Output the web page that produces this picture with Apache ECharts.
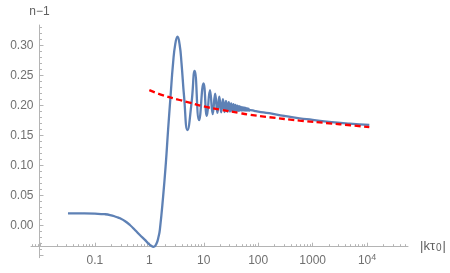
<!DOCTYPE html>
<html><head><meta charset="utf-8">
<script src="https://cdn.jsdelivr.net/npm/echarts@6/dist/echarts.min.js"></script>
<style>html,body{margin:0;padding:0;background:#fff}#c{width:450px;height:273px}</style>
</head><body><div id="c"></div>
<script>
// blue curve: n-1 versus |k tau0|
const blueK = [0.032,0.06,0.1,0.15,0.19,0.25,0.29,0.36,0.44,0.55,0.67,0.83,0.95,1.08,1.2,1.35,1.48,1.56,1.79,2.01,2.21,2.45,2.73,3.0,3.29,3.6,3.9,4.35,5.02,5.95,6.8,8.2,9.9,11.4,13.0,14.6,16.2,17.8,19.3,20.9,22.5,24.1,25.6,27.2,28.8,30.4,31.9,33.5,35.1,36.7,38.2,39.8,41.4,43.0,44.5,46.1,47.7,49.3,50.8,52.4,54.0,55.5,57.1,58.6,60.2,61.8,63.3,64.9,66.5,68,72,85,100,160,300,575,1000,2000,4800,11000];
const blueN = [0.0207,0.0205,0.0200,0.0192,0.0178,0.0145,0.0123,0.0075,0.0012,-0.0075,-0.0155,-0.0235,-0.0293,-0.0335,-0.0352,-0.030,-0.018,-0.007,0.048,0.104,0.1595,0.215,0.271,0.303,0.315,0.302,0.271,0.215,0.1595,0.204,0.258,0.176,0.237,0.183,0.226,0.186,0.220,0.188,0.215,0.189,0.211,0.1895,0.208,0.190,0.206,0.1903,0.204,0.1905,0.2025,0.191,0.2012,0.1912,0.2002,0.1915,0.1993,0.1917,0.1985,0.1918,0.1978,0.1919,0.1972,0.192,0.1966,0.192,0.1961,0.1919,0.1956,0.1918,0.1951,0.1917,0.1928,0.1915,0.1903,0.1875,0.183,0.179,0.1765,0.173,0.170,0.168];
// red dashed curve
const redK = [1,1.8,3.6,5.5,10,20,45,70,160,575,2000,5000,11000];
const redN = [0.226,0.2172,0.2095,0.2052,0.1988,0.1935,0.1878,0.185,0.1808,0.1752,0.1707,0.1674,0.1643];
// ticks
const xMajorTicks = [0.01,0.1,1,10,100,1000,10000];
const xLabelValues = [0.1,1,10,100,1000,10000];
const xTickLabels = ['0.1','1','10','100','1000','10^4'];
const xMinorTicks = [0.007,0.008,0.009,0.02,0.03,0.04,0.05,0.06,0.07,0.08,0.09,0.2,0.3,0.4,0.5,0.6,0.7,0.8,0.9,2,3,4,5,6,7,8,9,20,30,40,50,60,70,80,90,200,300,400,500,600,700,800,900,2000,3000,4000,5000,6000,7000,8000,9000,20000,30000,40000,50000];
const yMajorTicks = [-0.05,0,0.05,0.1,0.15,0.2,0.25,0.3];
const yLabelValues = [0,0.05,0.1,0.15,0.2,0.25,0.3];
const yMinorTicks = [-0.04,-0.03,-0.02,-0.01,0.01,0.02,0.03,0.04,0.06,0.07,0.08,0.09,0.11,0.12,0.13,0.14,0.16,0.17,0.18,0.19,0.21,0.22,0.23,0.24,0.26,0.27,0.28,0.29,0.31,0.32,0.33];

const AX = '#b4b4b4', TX = '#707070';
const FONT = '"Liberation Sans", Arial, sans-serif';
const blue = blueK.map((k,i)=>[k, blueN[i]]);
const red = redK.map((k,i)=>[k, redN[i]]);

function xFmt(v){
  const idx = xLabelValues.findIndex(t => Math.abs(Math.log10(t) - Math.log10(v)) < 1e-6);
  const s = idx >= 0 ? xTickLabels[idx] : String(v);
  if (s.indexOf('^') >= 0) { const p = s.split('^'); return '{b|' + p[0] + '}{s|' + p[1] + '}'; }
  return '{b|' + s + '}';
}

const chart = echarts.init(document.getElementById('c'), null, {renderer:'canvas'});
chart.setOption({
  animation: false,
  backgroundColor: '#fff',
  textStyle: {fontFamily: FONT},
  grid: {left: 31, right: 42, top: 25, bottom: 15.3, containLabel: false, outerBoundsMode: 'none'},
  xAxis: [{
    type: 'log', logBase: 10, min: 0.0067, max: 56500, position: 'bottom', offset: -11,
    axisLine: {show: true, onZero: false, lineStyle: {color: AX, width: 1}},
    axisTick: {show: true, inside: true, length: 4, customValues: xMajorTicks, lineStyle: {color: AX, width: 1}},
    minorTick: {show: false},
    axisLabel: {show: true, customValues: xLabelValues, formatter: xFmt, margin: 6, color: TX, fontFamily: FONT,
      rich: {b: {fontSize: 12, lineHeight: 14, color: TX, fontFamily: FONT, padding: [4,0,0,0], verticalAlign: 'bottom'},
             s: {fontSize: 9, lineHeight: 10, color: TX, fontFamily: FONT, verticalAlign: 'top'}}},
    splitLine: {show: false},
    name: '|kτ{s|0}|', nameLocation: 'end', nameGap: 12,
    nameTextStyle: {color: '#606060', fontSize: 13, fontFamily: FONT, align: 'left', verticalAlign: 'middle',
      rich: {s: {fontSize: 10, lineHeight: 10, color: '#606060', fontFamily: FONT, verticalAlign: 'bottom', padding: [9,1,0,1]}}}
  }, {
    type: 'log', logBase: 10, min: 0.0067, max: 56500, position: 'bottom', offset: -11,
    axisLine: {show: false, onZero: false},
    axisTick: {show: true, inside: true, length: 2.5, customValues: xMinorTicks, lineStyle: {color: AX, width: 1}},
    axisLabel: {show: false}, splitLine: {show: false}
  }],
  yAxis: [{
    type: 'value', min: -0.0533, max: 0.3345, position: 'left', offset: -8.5,
    axisLine: {show: true, onZero: false, lineStyle: {color: AX, width: 1}},
    axisTick: {show: true, inside: true, length: 4, customValues: yMajorTicks, lineStyle: {color: AX, width: 1}},
    axisLabel: {show: true, customValues: yLabelValues, formatter: v => Number(v).toFixed(2), margin: 6, color: TX, fontSize: 12, fontFamily: FONT},
    splitLine: {show: false},
    name: 'n\u22121', nameLocation: 'end', nameGap: 7,
    nameTextStyle: {color: '#606060', fontSize: 12, fontFamily: FONT, align: 'center'}
  }, {
    type: 'value', min: -0.0533, max: 0.3345, position: 'left', offset: -8.5,
    axisLine: {show: false, onZero: false},
    axisTick: {show: true, inside: true, length: 2.5, customValues: yMinorTicks, lineStyle: {color: AX, width: 1}},
    axisLabel: {show: false}, splitLine: {show: false}
  }],
  series: [{
    type: 'line', xAxisIndex: 0, yAxisIndex: 0, data: blue, showSymbol: false, smooth: true,
    lineStyle: {color: '#5e81b5', width: 2.3}, itemStyle: {color: '#5e81b5'}, z: 2, clip: false
  }, {
    type: 'line', xAxisIndex: 0, yAxisIndex: 0, data: red, showSymbol: false, smooth: true,
    lineStyle: {color: '#ff0000', width: 2.3, type: [6, 3.5]}, itemStyle: {color: '#ff0000'}, z: 3, clip: false
  }]
});
</script>
</body></html>
